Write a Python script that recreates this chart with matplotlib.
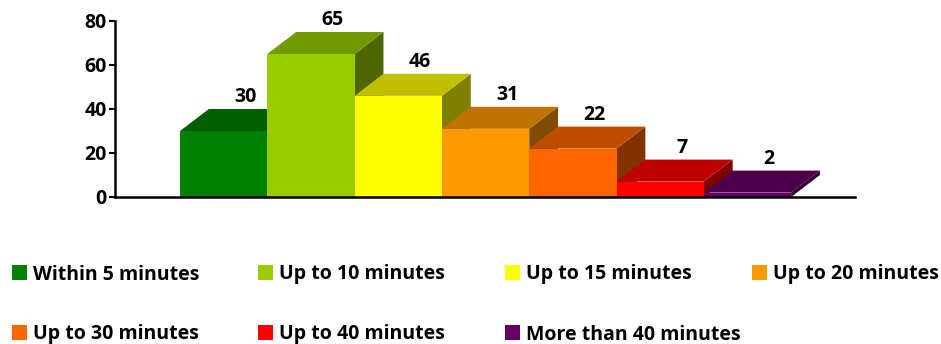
import matplotlib
matplotlib.use('Agg')

import matplotlib.pyplot as plt
from matplotlib.patches import Polygon, Rectangle

categories = ['Within 5 minutes', 'Up to 10 minutes', 'Up to 15 minutes',
              'Up to 20 minutes', 'Up to 30 minutes', 'Up to 40 minutes',
              'More than 40 minutes']
values = [30, 65, 46, 31, 22, 7, 2]

front_colors = ['#008000', '#99CC00', '#FFFF00', '#FF9900', '#FF6600', '#FF0000', '#660066']
top_colors = ['#006000', '#739900', '#C0C000', '#C07300', '#C04C00', '#C00000', '#4C004C']
side_colors = ['#004000', '#4D6600', '#808000', '#804C00', '#803300', '#800000', '#330033']

yticks = [0, 20, 40, 60, 80]

FONT = 'Open Sans'
W, H = 941, 344


def main():
    fig = plt.figure(figsize=(W / 100, H / 100), dpi=100)
    ax = fig.add_axes([115 / W, (H - 197) / H, 740 / W, 176 / H])

    dx = 0.33   # depth offset, bar widths
    dy = 10.0   # depth offset, value units
    x0 = 0.745

    for i, v in enumerate(values):
        left = x0 + i
        z = 2 + i
        ax.add_patch(Polygon([(left + 1, 0), (left + 1 + dx, dy), (left + 1 + dx, v + dy), (left + 1, v)],
                             closed=True, facecolor=side_colors[i], edgecolor='none', zorder=z))
        ax.add_patch(Rectangle((left, 0), 1, v, facecolor=front_colors[i], edgecolor='none', zorder=z))
        ax.add_patch(Polygon([(left, v), (left + 1, v), (left + 1 + dx, v + dy), (left + dx, v + dy)],
                             closed=True, facecolor=top_colors[i], edgecolor='none', zorder=z))
        ax.text(left + 0.5 + dx * 0.75, v + dy + 0.8, str(v), ha='center', va='bottom',
                fontsize=14, fontweight='bold', family=FONT, zorder=20)

    ax.set_xlim(0, 740 / 87.3)
    ax.set_ylim(0, 80)
    ax.set_yticks(yticks)
    ax.set_xticks([])
    for s in ['top', 'right']:
        ax.spines[s].set_visible(False)
    for s in ['left', 'bottom']:
        ax.spines[s].set_linewidth(1.8)
        ax.spines[s].set_zorder(30)
    ax.tick_params(axis='y', length=4, width=1.5, pad=2)
    for lab in ax.get_yticklabels():
        lab.set_fontsize(14)
        lab.set_fontweight('bold')
        lab.set_family(FONT)
    ax.patch.set_alpha(0)

    # legend, 4 columns
    col_x = [12, 258, 505, 752]
    row_y = [272, 332]
    for k, name in enumerate(categories):
        r, c = divmod(k, 4)
        sx = col_x[c]
        cy = row_y[r]
        fig.add_artist(Rectangle((sx / W, (H - cy - 7.5) / H), 15 / W, 15 / H,
                                 facecolor=front_colors[k], edgecolor='none',
                                 transform=fig.transFigure))
        fig.text((sx + 21) / W, (H - cy) / H, name, ha='left', va='center_baseline',
                 fontsize=14, fontweight='bold', family=FONT)

    fig.savefig('out.png', dpi=100)
    plt.close(fig)


if __name__ == '__main__':
    main()
